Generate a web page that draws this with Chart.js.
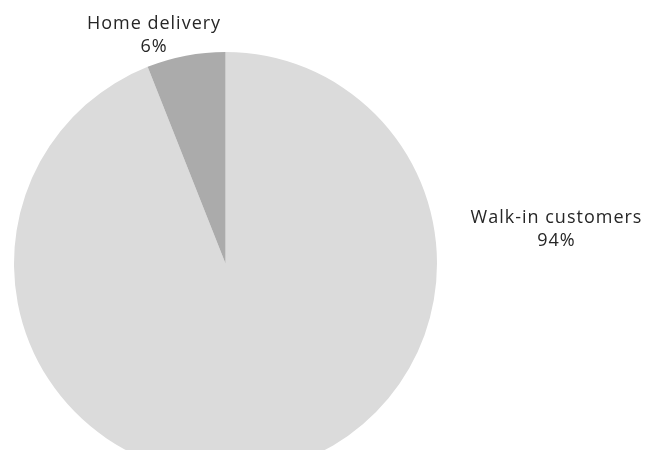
<!DOCTYPE html>
<html>
<head>
<meta charset="utf-8">
<script src="https://cdn.jsdelivr.net/npm/chart.js@4/dist/chart.umd.min.js"></script>
<style>
  html, body { margin: 0; padding: 0; background: #fff; overflow: hidden; }
  #wrap { position: relative; width: 653px; height: 480px; }
</style>
</head>
<body>
<div id="wrap"><canvas id="c"></canvas></div>
<script>
const categories = ["Walk-in customers", "Home delivery"];
const shares = [94, 6];
const sliceColors = ["#dbdbdb", "#ababab"];

// Labels placed beside the pie, offset from the pie centre in units of its radius
const labelSpots = [
  { dx: 1.565, dy: -0.161 },
  { dx: -0.338, dy: -1.08 }
];

const sideLabels = {
  id: "sideLabels",
  afterDatasetsDraw(chart) {
    const ctx = chart.ctx;
    const arc = chart.getDatasetMeta(0).data[0];
    const cx = arc.x, cy = arc.y, r = arc.outerRadius;
    ctx.save();
    ctx.font = "18px 'Open Sans'";
    ctx.letterSpacing = "1px";
    ctx.fillStyle = "#262626";
    ctx.textAlign = "center";
    ctx.textBaseline = "middle";
    categories.forEach((name, i) => {
      const x = cx + labelSpots[i].dx * r;
      const y = cy + labelSpots[i].dy * r;
      ctx.fillText(name, x, y - 11.5);
      ctx.fillText(shares[i] + "%", x, y + 11.5);
    });
    ctx.restore();
  }
};

new Chart(document.getElementById("c"), {
  type: "pie",
  data: {
    labels: categories,
    datasets: [{
      data: shares,
      backgroundColor: sliceColors,
      borderWidth: 0
    }]
  },
  options: {
    responsive: true,
    maintainAspectRatio: false,
    animation: false,
    layout: { padding: { left: 14, top: 52, right: 216, bottom: 5 } },
    plugins: {
      legend: { display: false },
      tooltip: { enabled: false }
    }
  },
  plugins: [sideLabels]
});
</script>
</body>
</html>
